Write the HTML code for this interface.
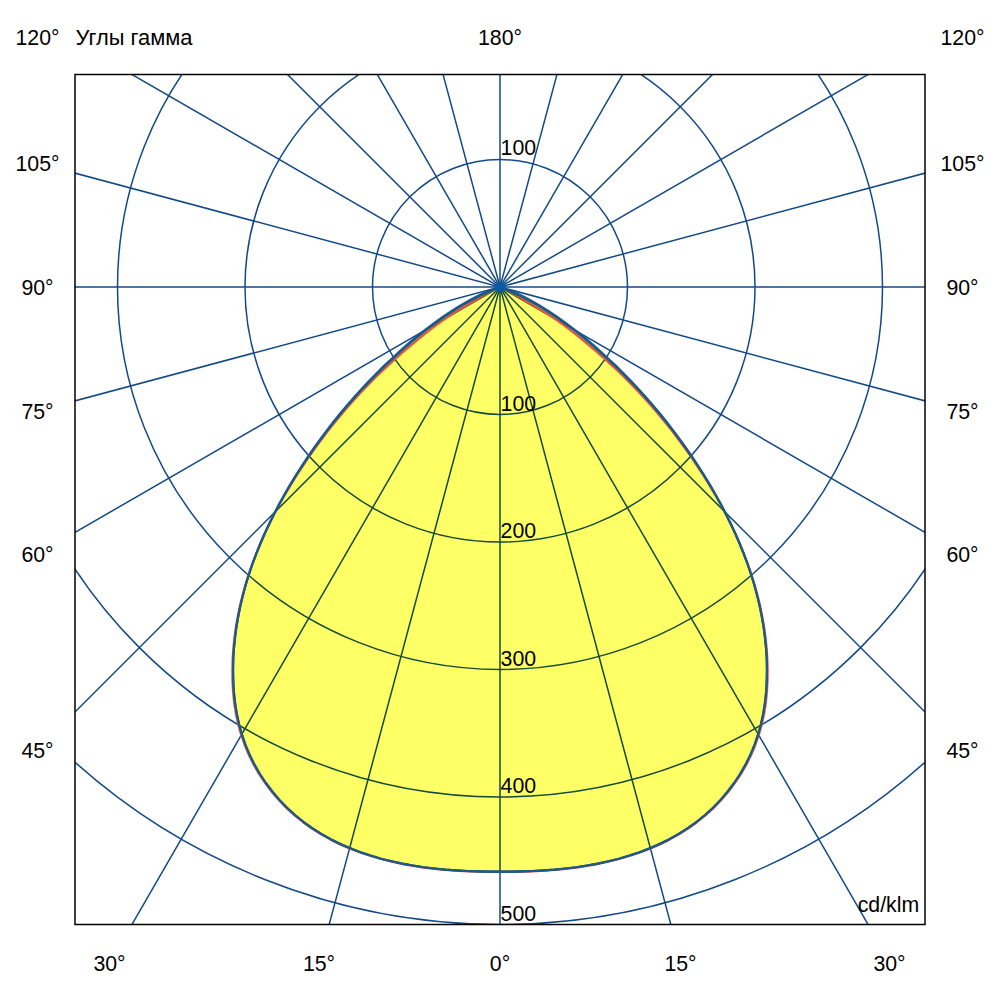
<!DOCTYPE html>
<html><head><meta charset="utf-8"><title>Polar diagram</title>
<style>
html,body{margin:0;padding:0;background:#fff;}
body{width:1000px;height:1000px;position:relative;overflow:hidden;font-family:"Liberation Sans",sans-serif;}
</style></head><body>
<svg width="1000" height="1000" viewBox="0 0 1000 1000" style="position:absolute;left:0;top:0">
<defs><clipPath id="c"><rect x="75.0" y="74.5" width="850.0" height="850.0"/></clipPath></defs>
<rect width="1000" height="1000" fill="#fff"/>
<g clip-path="url(#c)">
<path d="M500.0,287.0 L510.1,291.2 L520.0,295.8 L529.6,300.8 L539.0,306.2 L548.2,311.9 L557.2,317.9 L566.0,324.2 L574.7,330.7 L583.1,337.5 L591.4,344.5 L599.6,351.6 L607.6,358.9 L615.5,366.3 L623.2,373.9 L630.8,381.7 L638.3,389.6 L645.5,397.6 L652.7,405.8 L659.7,414.1 L666.5,422.5 L673.2,431.1 L679.7,439.8 L686.1,448.7 L692.3,457.6 L698.3,466.7 L704.2,475.9 L709.9,485.2 L715.4,494.7 L720.7,504.2 L725.7,513.9 L730.6,523.7 L735.2,533.5 L739.5,543.5 L743.6,553.6 L747.4,563.7 L750.9,574.0 L754.1,584.3 L756.9,594.7 L759.5,605.3 L761.6,615.8 L763.5,626.5 L764.9,637.3 L766.0,648.1 L766.7,659.0 L766.9,669.9 L766.7,680.9 L766.1,691.8 L764.9,702.8 L763.2,713.6 L760.9,724.2 L758.0,734.7 L754.5,744.9 L750.3,754.9 L745.5,764.6 L740.1,774.0 L734.1,783.0 L727.5,791.7 L720.5,799.9 L713.0,807.7 L705.0,815.0 L696.6,821.8 L687.8,828.1 L678.7,833.9 L669.3,839.2 L659.6,844.0 L649.7,848.3 L639.6,852.2 L629.3,855.6 L618.9,858.7 L608.3,861.3 L597.7,863.6 L587.0,865.5 L576.3,867.2 L565.5,868.5 L554.7,869.6 L543.8,870.4 L532.9,871.0 L521.9,871.4 L511.0,871.6 L500.0,871.6 L489.0,871.6 L478.1,871.4 L467.1,871.0 L456.2,870.4 L445.3,869.6 L434.5,868.5 L423.7,867.2 L413.0,865.5 L402.3,863.6 L391.7,861.3 L381.1,858.7 L370.7,855.6 L360.4,852.2 L350.3,848.3 L340.4,844.0 L330.7,839.2 L321.3,833.9 L312.2,828.1 L303.4,821.8 L295.0,815.0 L287.0,807.7 L279.5,799.9 L272.5,791.7 L265.9,783.0 L259.9,774.0 L254.5,764.6 L249.7,754.9 L245.5,744.9 L242.0,734.7 L239.1,724.2 L236.8,713.6 L235.1,702.8 L233.9,691.8 L233.3,680.9 L233.1,669.9 L233.3,659.0 L234.0,648.1 L235.1,637.3 L236.5,626.5 L238.4,615.8 L240.5,605.3 L243.1,594.7 L245.9,584.3 L249.1,574.0 L252.6,563.7 L256.4,553.6 L260.5,543.5 L264.8,533.5 L269.4,523.7 L274.3,513.9 L279.3,504.2 L284.6,494.7 L290.1,485.2 L295.8,475.9 L301.7,466.7 L307.7,457.6 L313.9,448.7 L320.3,439.8 L326.8,431.1 L333.5,422.5 L340.3,414.1 L347.3,405.8 L354.5,397.6 L361.7,389.6 L369.2,381.7 L376.8,373.9 L384.5,366.3 L392.4,358.9 L400.4,351.6 L408.6,344.5 L416.9,337.5 L425.3,330.7 L434.0,324.2 L442.8,317.9 L451.8,311.9 L461.0,306.2 L470.4,300.8 L480.0,295.8 L489.9,291.2 L500.0,287.0 Z" fill="#ffff66" stroke="none"/>
<g fill="none" stroke="#134a86" stroke-width="1.5" style="mix-blend-mode:multiply">
<circle cx="500.0" cy="287.0" r="127.49999999999999"/>
<circle cx="500.0" cy="287.0" r="254.99999999999997"/>
<circle cx="500.0" cy="287.0" r="382.5"/>
<circle cx="500.0" cy="287.0" r="509.99999999999994"/>
<circle cx="500.0" cy="287.0" r="637.5"/>
<line x1="500.00" y1="-1213.00" x2="500.00" y2="1787.00"/>
<line x1="111.77" y1="-1161.89" x2="888.23" y2="1735.89"/>
<line x1="-250.00" y1="-1012.04" x2="1250.00" y2="1586.04"/>
<line x1="-560.66" y1="-773.66" x2="1560.66" y2="1347.66"/>
<line x1="-799.04" y1="-463.00" x2="1799.04" y2="1037.00"/>
<line x1="-948.89" y1="-101.23" x2="1948.89" y2="675.23"/>
<line x1="-1000.00" y1="287.00" x2="2000.00" y2="287.00"/>
<line x1="-948.89" y1="675.23" x2="1948.89" y2="-101.23"/>
<line x1="-799.04" y1="1037.00" x2="1799.04" y2="-463.00"/>
<line x1="-560.66" y1="1347.66" x2="1560.66" y2="-773.66"/>
<line x1="-250.00" y1="1586.04" x2="1250.00" y2="-1012.04"/>
<line x1="111.77" y1="1735.89" x2="888.23" y2="-1161.89"/>
</g>
<path d="M500.0,287.0 L510.0,291.5 L519.4,296.9 L528.6,302.6 L537.9,307.9 L547.1,313.6 L556.0,319.6 L564.8,325.9 L573.3,332.4 L581.7,339.2 L590.0,346.1 L598.3,353.1 L606.4,360.3 L614.3,367.6 L622.1,375.0 L629.8,382.7 L637.3,390.5 L644.7,398.4 L651.9,406.5 L658.9,414.7 L665.8,423.1 L672.6,431.6 L679.1,440.2 L685.6,449.0 L691.8,457.9 L697.9,467.0 L703.9,476.1 L709.6,485.4 L715.2,494.8 L720.5,504.3 L725.7,513.9 L730.6,523.7 L735.2,533.5 L739.6,543.5 L743.7,553.5 L747.6,563.6 L751.2,573.9 L754.4,584.2 L757.3,594.6 L759.9,605.2 L762.1,615.8 L764.0,626.4 L765.5,637.2 L766.6,648.0 L767.3,658.9 L767.6,669.9 L767.5,680.9 L766.9,691.9 L765.8,702.9 L764.1,713.7 L761.7,724.4 L758.8,734.9 L755.2,745.2 L751.0,755.3 L746.2,765.0 L740.7,774.4 L734.6,783.4 L728.1,792.1 L721.0,800.3 L713.4,808.1 L705.4,815.4 L696.9,822.2 L688.1,828.5 L679.0,834.3 L669.5,839.6 L659.8,844.4 L649.9,848.7 L639.7,852.5 L629.4,856.0 L619.0,859.0 L608.4,861.7 L597.8,864.0 L587.1,865.9 L576.3,867.5 L565.5,868.8 L554.7,869.9 L543.8,870.7 L532.9,871.3 L521.9,871.7 L511.0,871.9 L500.0,871.9 L489.0,871.9 L478.1,871.7 L467.1,871.3 L456.2,870.7 L445.3,869.9 L434.5,868.8 L423.7,867.5 L412.9,865.9 L402.2,864.0 L391.6,861.7 L381.0,859.0 L370.6,856.0 L360.3,852.5 L350.1,848.7 L340.2,844.4 L330.5,839.6 L321.0,834.3 L311.9,828.5 L303.1,822.2 L294.6,815.4 L286.6,808.1 L279.0,800.3 L271.9,792.1 L265.4,783.4 L259.3,774.4 L253.8,765.0 L249.0,755.3 L244.8,745.2 L241.2,734.9 L238.3,724.4 L235.9,713.7 L234.2,702.9 L233.1,691.9 L232.5,680.9 L232.4,669.9 L232.7,658.9 L233.4,648.0 L234.5,637.2 L236.0,626.4 L237.9,615.8 L240.1,605.2 L242.7,594.6 L245.6,584.2 L248.8,573.9 L252.4,563.6 L256.3,553.5 L260.4,543.5 L264.8,533.5 L269.4,523.7 L274.3,513.9 L279.5,504.3 L284.8,494.8 L290.4,485.4 L296.1,476.1 L302.1,467.0 L308.2,457.9 L314.4,449.0 L320.9,440.2 L327.4,431.6 L334.2,423.1 L341.1,414.7 L348.1,406.5 L355.3,398.4 L362.7,390.5 L370.2,382.7 L377.9,375.0 L385.7,367.6 L393.6,360.3 L401.7,353.1 L410.0,346.1 L418.3,339.2 L426.7,332.4 L435.2,325.9 L444.0,319.6 L452.9,313.6 L462.1,307.9 L471.4,302.6 L480.6,296.9 L490.0,291.5 L500.0,287.0 Z" fill="none" stroke="#e8553c" stroke-width="2.3" stroke-linejoin="round"/>
<path d="M500.0,287.0 L510.5,290.4 L520.4,295.0 L530.0,300.0 L539.5,305.4 L548.7,311.1 L557.7,317.2 L566.6,323.5 L575.2,330.0 L583.7,336.8 L592.0,343.9 L600.1,351.0 L608.1,358.4 L616.0,365.8 L623.7,373.5 L631.3,381.2 L638.7,389.1 L646.0,397.2 L653.1,405.4 L660.1,413.7 L666.9,422.2 L673.6,430.8 L680.1,439.6 L686.4,448.4 L692.6,457.4 L698.6,466.5 L704.5,475.7 L710.2,485.1 L715.6,494.5 L720.9,504.1 L726.0,513.8 L730.8,523.6 L735.4,533.4 L739.7,543.4 L743.7,553.5 L747.5,563.7 L750.9,574.0 L754.1,584.3 L756.9,594.7 L759.5,605.3 L761.6,615.8 L763.5,626.5 L764.9,637.3 L766.0,648.1 L766.7,659.0 L766.9,669.9 L766.7,680.9 L766.1,691.8 L764.9,702.8 L763.2,713.6 L760.9,724.2 L758.0,734.7 L754.5,744.9 L750.3,754.9 L745.5,764.6 L740.1,774.0 L734.1,783.0 L727.5,791.7 L720.5,799.9 L713.0,807.7 L705.0,815.0 L696.6,821.8 L687.8,828.1 L678.7,833.9 L669.3,839.2 L659.6,844.0 L649.7,848.3 L639.6,852.2 L629.3,855.6 L618.9,858.7 L608.3,861.3 L597.7,863.6 L587.0,865.5 L576.3,867.2 L565.5,868.5 L554.7,869.6 L543.8,870.4 L532.9,871.0 L521.9,871.4 L511.0,871.6 L500.0,871.6 L489.0,871.6 L478.1,871.4 L467.1,871.0 L456.2,870.4 L445.3,869.6 L434.5,868.5 L423.7,867.2 L413.0,865.5 L402.3,863.6 L391.7,861.3 L381.1,858.7 L370.7,855.6 L360.4,852.2 L350.3,848.3 L340.4,844.0 L330.7,839.2 L321.3,833.9 L312.2,828.1 L303.4,821.8 L295.0,815.0 L287.0,807.7 L279.5,799.9 L272.5,791.7 L265.9,783.0 L259.9,774.0 L254.5,764.6 L249.7,754.9 L245.5,744.9 L242.0,734.7 L239.1,724.2 L236.8,713.6 L235.1,702.8 L233.9,691.8 L233.3,680.9 L233.1,669.9 L233.3,659.0 L234.0,648.1 L235.1,637.3 L236.5,626.5 L238.4,615.8 L240.5,605.3 L243.1,594.7 L245.9,584.3 L249.1,574.0 L252.5,563.7 L256.3,553.5 L260.3,543.4 L264.6,533.4 L269.2,523.6 L274.0,513.8 L279.1,504.1 L284.4,494.5 L289.8,485.1 L295.5,475.7 L301.4,466.5 L307.4,457.4 L313.6,448.4 L319.9,439.6 L326.4,430.8 L333.1,422.2 L339.9,413.7 L346.9,405.4 L354.0,397.2 L361.3,389.1 L368.7,381.2 L376.3,373.5 L384.0,365.8 L391.9,358.4 L399.9,351.0 L408.0,343.9 L416.3,336.8 L424.8,330.0 L433.4,323.5 L442.3,317.2 L451.3,311.1 L460.5,305.4 L470.0,300.0 L479.6,295.0 L489.5,290.4 L500.0,287.0 Z" fill="none" stroke="#1b5a8a" stroke-width="2.1" stroke-linejoin="round"/>
<path d="M500.0,287.0 L510.1,291.2 L520.0,295.8 L529.6,300.8 L539.0,306.2 L548.2,311.9 L557.2,317.9 L566.0,324.2 L574.7,330.7 L583.1,337.5 L591.4,344.5 L599.6,351.6 L607.6,358.9 L615.5,366.3 L623.2,373.9 L630.8,381.7 L638.3,389.6 L645.5,397.6 L652.7,405.8 L659.7,414.1 L666.5,422.5 L673.2,431.1 L679.7,439.8 L686.1,448.7 L692.3,457.6 L698.3,466.7 L704.2,475.9 L709.9,485.2 L715.4,494.7 L720.7,504.2 L725.7,513.9 L730.6,523.7 L735.2,533.5 L739.5,543.5 L743.6,553.6 L747.4,563.7 L750.9,574.0 L754.1,584.3 L756.9,594.7 L759.5,605.3 L761.6,615.8 L763.5,626.5 L764.9,637.3 L766.0,648.1 L766.7,659.0 L766.9,669.9 L766.7,680.9 L766.1,691.8 L764.9,702.8 L763.2,713.6 L760.9,724.2 L758.0,734.7 L754.5,744.9 L750.3,754.9 L745.5,764.6 L740.1,774.0 L734.1,783.0 L727.5,791.7 L720.5,799.9 L713.0,807.7 L705.0,815.0 L696.6,821.8 L687.8,828.1 L678.7,833.9 L669.3,839.2 L659.6,844.0 L649.7,848.3 L639.6,852.2 L629.3,855.6 L618.9,858.7 L608.3,861.3 L597.7,863.6 L587.0,865.5 L576.3,867.2 L565.5,868.5 L554.7,869.6 L543.8,870.4 L532.9,871.0 L521.9,871.4 L511.0,871.6 L500.0,871.6 L489.0,871.6 L478.1,871.4 L467.1,871.0 L456.2,870.4 L445.3,869.6 L434.5,868.5 L423.7,867.2 L413.0,865.5 L402.3,863.6 L391.7,861.3 L381.1,858.7 L370.7,855.6 L360.4,852.2 L350.3,848.3 L340.4,844.0 L330.7,839.2 L321.3,833.9 L312.2,828.1 L303.4,821.8 L295.0,815.0 L287.0,807.7 L279.5,799.9 L272.5,791.7 L265.9,783.0 L259.9,774.0 L254.5,764.6 L249.7,754.9 L245.5,744.9 L242.0,734.7 L239.1,724.2 L236.8,713.6 L235.1,702.8 L233.9,691.8 L233.3,680.9 L233.1,669.9 L233.3,659.0 L234.0,648.1 L235.1,637.3 L236.5,626.5 L238.4,615.8 L240.5,605.3 L243.1,594.7 L245.9,584.3 L249.1,574.0 L252.6,563.7 L256.4,553.6 L260.5,543.5 L264.8,533.5 L269.4,523.7 L274.3,513.9 L279.3,504.2 L284.6,494.7 L290.1,485.2 L295.8,475.9 L301.7,466.7 L307.7,457.6 L313.9,448.7 L320.3,439.8 L326.8,431.1 L333.5,422.5 L340.3,414.1 L347.3,405.8 L354.5,397.6 L361.7,389.6 L369.2,381.7 L376.8,373.9 L384.5,366.3 L392.4,358.9 L400.4,351.6 L408.6,344.5 L416.9,337.5 L425.3,330.7 L434.0,324.2 L442.8,317.9 L451.8,311.9 L461.0,306.2 L470.4,300.8 L480.0,295.8 L489.9,291.2 L500.0,287.0 Z" fill="none" stroke="#1b5a8a" stroke-width="2.1" stroke-linejoin="round"/>
<circle cx="500.0" cy="287.0" r="5.2" fill="#0d5aa4"/>
</g>
<rect x="75.0" y="74.5" width="850.0" height="850.0" fill="none" stroke="#000" stroke-width="1.5"/>
<g font-family="Liberation Sans, sans-serif" font-size="21.3px" fill="#000">
<text transform="translate(37.5,45) scale(1,1.07)" text-anchor="middle">120°</text>
<text transform="translate(962.5,45) scale(1,1.07)" text-anchor="middle">120°</text>
<text transform="translate(37.5,170.6) scale(1,1.07)" text-anchor="middle">105°</text>
<text transform="translate(962.5,170.6) scale(1,1.07)" text-anchor="middle">105°</text>
<text transform="translate(37.5,295) scale(1,1.07)" text-anchor="middle">90°</text>
<text transform="translate(962.5,295) scale(1,1.07)" text-anchor="middle">90°</text>
<text transform="translate(37.5,418.5) scale(1,1.07)" text-anchor="middle">75°</text>
<text transform="translate(962.5,418.5) scale(1,1.07)" text-anchor="middle">75°</text>
<text transform="translate(37.5,562) scale(1,1.07)" text-anchor="middle">60°</text>
<text transform="translate(962.5,562) scale(1,1.07)" text-anchor="middle">60°</text>
<text transform="translate(37.5,757.7) scale(1,1.07)" text-anchor="middle">45°</text>
<text transform="translate(962.5,757.7) scale(1,1.07)" text-anchor="middle">45°</text>
<text transform="translate(75.5,45) scale(1,1.07)" textLength="117" lengthAdjust="spacingAndGlyphs">Углы гамма</text>
<text transform="translate(500,45) scale(1,1.07)" text-anchor="middle">180°</text>
<text transform="translate(109.5,970.6) scale(1,1.07)" text-anchor="middle">30°</text>
<text transform="translate(319,970.6) scale(1,1.07)" text-anchor="middle">15°</text>
<text transform="translate(500,970.6) scale(1,1.07)" text-anchor="middle">0°</text>
<text transform="translate(680.5,970.6) scale(1,1.07)" text-anchor="middle">15°</text>
<text transform="translate(889.5,970.6) scale(1,1.07)" text-anchor="middle">30°</text>
<text transform="translate(500.6,155) scale(1,1.07)" text-anchor="start">100</text>
<text transform="translate(500.6,410.5) scale(1,1.07)" text-anchor="start">100</text>
<text transform="translate(500.6,538) scale(1,1.07)" text-anchor="start">200</text>
<text transform="translate(500.6,665.5) scale(1,1.07)" text-anchor="start">300</text>
<text transform="translate(500.6,793) scale(1,1.07)" text-anchor="start">400</text>
<text transform="translate(500.6,920.7) scale(1,1.07)" text-anchor="start">500</text>
<text transform="translate(919.2,912) scale(1,1.07)" text-anchor="end">cd/klm</text>
</g>
</svg>
</body></html>
